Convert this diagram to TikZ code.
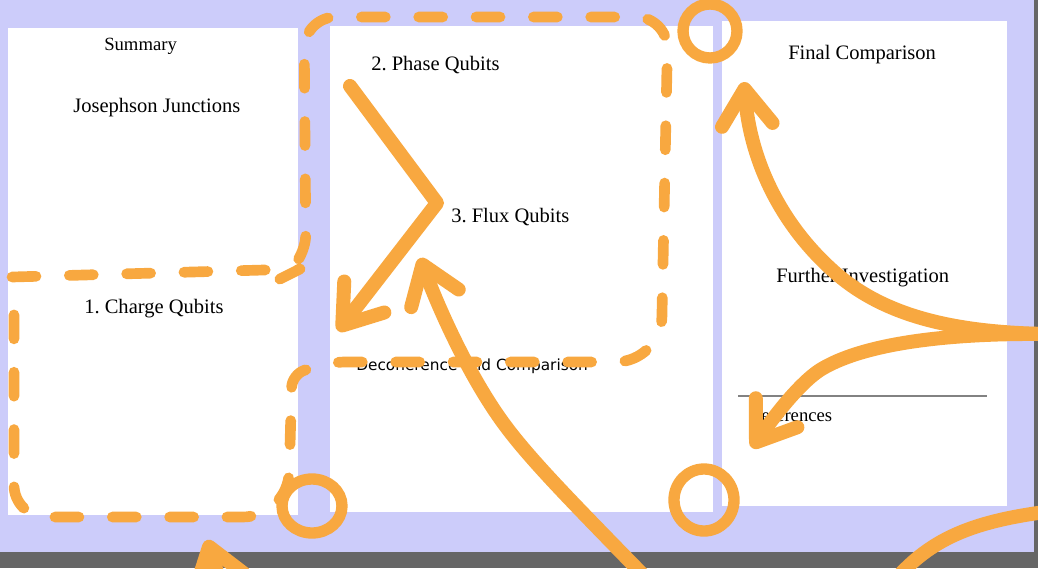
\documentclass[tikz,border=0pt]{standalone}
\usepackage{fontspec}
\setmainfont{Liberation Serif}
\newfontfamily\decofont{DejaVu Sans}
\usetikzlibrary{arrows.meta}
\definecolor{lav}{RGB}{204,204,250}
\definecolor{darkstrip}{RGB}{102,102,102}
\definecolor{marker}{RGB}{248,168,64}
\definecolor{rulegray}{RGB}{130,130,130}
\frenchspacing
\begin{document}
\begin{tikzpicture}[x=0.75pt,y=-0.75pt,
  panel/.style={fill=white,draw=none},
  lbl/.style={anchor=base west,inner sep=0pt,font=\fontsize{15.4}{18}\selectfont},
  smalllbl/.style={anchor=base west,inner sep=0pt,font=\fontsize{14}{17}\selectfont},
  sanslbl/.style={anchor=base west,inner sep=0pt,font=\decofont\fontsize{11.5}{14}\selectfont},
  stroke/.style={draw=marker,line width=10.5pt,line cap=round,line join=round},
  arrowed/.style={stroke,-{Straight Barb[length=27pt,width=38pt,round]}},
  loopline/.style={draw=marker,line width=8pt,line cap=round,line join=round,dash pattern=on 18pt off 25pt},
  ring/.style={draw=marker,line width=8.5pt}]
\useasboundingbox (0,0) rectangle (1038,568);
\clip (0,0) rectangle (1038,568);
% background
\fill[lav] (0,0) rectangle (1038,568);
\fill[darkstrip] (0,552) rectangle (1038,568);
\fill[darkstrip] (1034,0) rectangle (1038,568);
% panels
\path[panel] (8,28) rectangle (298,515);
\path[panel] (330,26) rectangle (713,512);
\path[panel] (722,21) rectangle (1007,506);
% texts
\node[smalllbl] (summary) at (104,50) {Summary};
\node[lbl] (jj) at (73,112) {Josephson Junctions};
\node[lbl] (charge) at (84,313) {1. Charge Qubits};
\node[lbl] (phase) at (371,70) {2. Phase Qubits};
\node[lbl] (flux) at (451,222) {3. Flux Qubits};
\node[sanslbl] (deco) at (356,370) {Decoherence and Comparison};
\node[lbl] (final) at (788,59) {Final Comparison};
\node[lbl] (further) at (776,282) {Further Investigation};
\node[smalllbl] (refs) at (749,421) {References};
\coordinate (ruleL) at (738,396);
\coordinate (ruleR) at (987,396);
\draw[rulegray,line width=0.8pt] (ruleL) -- (ruleR);
% dashed loop
\draw[loopline] (12,277) -- (300,269) [rounded corners=24pt] -- (306,266) -- (304,17) -- (668,17) [rounded corners=34pt] -- (661,362) [rounded corners=10pt] -- (332,362) -- (292,374) [rounded corners=34pt] -- (288,517) [rounded corners=24pt] -- (14,517) -- (14,305);
% rings
\draw[ring] (312,506) ellipse [x radius=30,y radius=27];
\draw[ring] (704,500) ellipse [x radius=30,y radius=31];
\draw[ring] (710,31) ellipse [x radius=27,y radius=27];
% arrows
\coordinate (phaseStart) at (350,86);
\coordinate (phaseBend) at (437,203);
\coordinate (phaseTip) at (338,331);
\draw[arrowed] (phaseStart) -- (phaseBend) -- (phaseTip);
\coordinate (fluxStart) at (648,580);
\coordinate (fluxMid) at (507,428);
\coordinate (fluxTip) at (420,258);
\draw[arrowed] (fluxStart) .. controls (580,510) and (535,465) .. (fluxMid) .. controls (472,382) and (440,312) .. (fluxTip);
\coordinate (rightStart) at (1045,334);
\coordinate (finalMid) at (830,268);
\coordinate (finalTip) at (744,82);
\draw[arrowed] (rightStart) .. controls (950,332) and (880,315) .. (finalMid) .. controls (780,222) and (750,160) .. (finalTip);
\coordinate (refsMid) at (820,370);
\coordinate (refsTip) at (752,448);
\draw[arrowed] (rightStart) .. controls (940,333) and (860,345) .. (refsMid) .. controls (800,383) and (775,415) .. (refsTip);
\coordinate (blStart) at (232,620);
\coordinate (blTip) at (207,540);
\draw[arrowed] (blStart) -- (blTip);
\coordinate (brStart) at (895,580);
\coordinate (brEnd) at (1045,512);
\draw[stroke] (brStart) .. controls (930,540) and (970,522) .. (brEnd);
\end{tikzpicture}
\end{document}
